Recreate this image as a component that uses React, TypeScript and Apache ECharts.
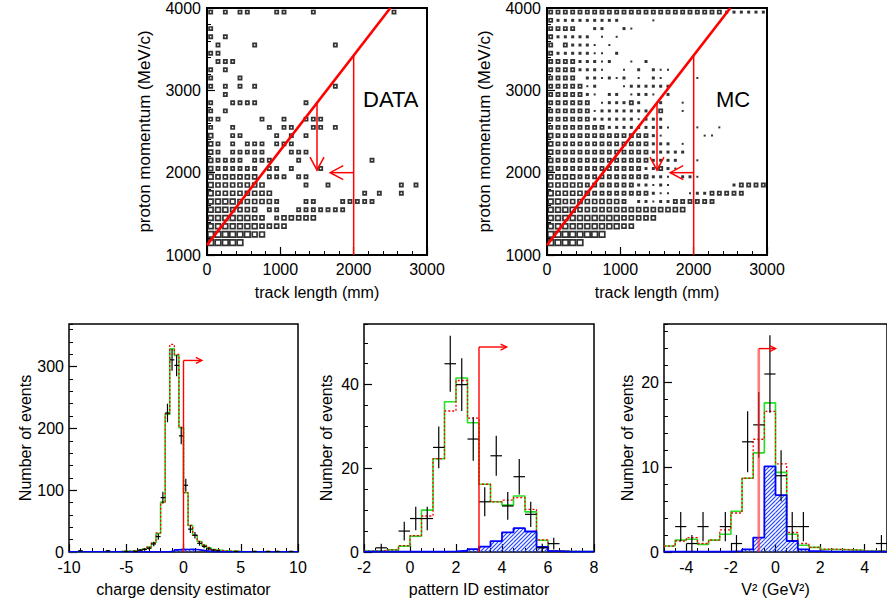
import React, { useEffect, useRef } from 'react';
import * as echarts from 'echarts';

const FONT = '"Liberation Sans", Arial, Helvetica, sans-serif';

// ---------------- top: proton momentum vs track length ----------------
const TRACK_RANGE = [0, 3000];
const MOM_RANGE = [1000, 4000];
const TRACK_BIN = 100;
const MOM_BIN = 100;
// box-size level for each 100 mm x 100 MeV/c cell; first string = top row (3900-4000)
const DATA_ROWS = [
  '3030330003 3000300000 0000030000',
  '0000000000 0000000000 0000000000',
  '3000000000 0000000000 0000000000',
  '3030000000 0000000000 0000000000',
  '0300003000 0000000300 0000000000',
  '3300000000 0000000000 0000000000',
  '0333000000 0000000000 0000000000',
  '3030000000 0000000000 0000000000',
  '3000300000 0000000000 0000000000',
  '3030303000 0000000300 0000000000',
  '0030000000 0000000000 0000000000',
  '3003333000 0003000000 0000000000',
  '3030000000 0000000000 0000000000',
  '3300000300 3003330000 0000000000',
  '3003000030 3300330300 0000000000',
  '4003300003 0303000000 0000000000',
  '4303033303 3300000000 0000000000',
  '4303333300 0333000000 0000000000',
  '4333303330 0030000000 0030000000',
  '4333333033 0300030000 0000000000',
  '5444444033 3033000000 0000000000',
  '5444444400 0003003000 0000003030',
  '5444444440 0000000000 0303003000',
  '5555444443 0003300033 3330000000',
  '5554444033 0033333330 0000000000',
  '5555554403 4444400000 0000000000',
  '5555555444 4000000000 0000000000',
  '6666665500 0000000000 0000000000',
  '6666600000 0000000000 0000000000',
  '0000000000 0000000000 0000000000',
];
const MC_ROWS = [
  '3333333333 3333333333 3333222222',
  '3222222222 0000100000 0000000000',
  '3333002200 2100000000 0000000000',
  '3222220101 0000000000 0000000000',
  '3032221010 0000000000 0000000000',
  '3222221102 0000000000 0000000000',
  '3333222120 0102000000 0000000000',
  '3333222100 1020211000 0000000000',
  '3333022121 2010210000 1000000000',
  '3333312000 1222222000 0000000000',
  '3333321022 0122102000 0000000000',
  '3333330122 2320020010 0000000000',
  '3333331222 2222030010 0000000000',
  '3333332222 2212220000 0000000000',
  '3333333322 2222221000 1001000000',
  '4333333333 3333210000 0110000000',
  '4333333333 3333222010 0000000000',
  '4333333333 3333222220 0000000000',
  '4333333333 3333222200 1000000000',
  '4333333333 3332232100 0000000000',
  '4444333333 3333221022 1000000000',
  '4444433333 3322121000 0000023333',
  '5444443333 3333211001 2233333000',
  '5544444444 3022122333 3330000000',
  '5555444444 4444444440 0000000000',
  '5555555555 4444400000 0000000000',
  '5555555555 4400000000 0000000000',
  '6666666600 0000000000 0000000000',
  '6666600000 0000000000 0000000000',
  '0000000000 0000000000 0000000000',
];
const BOX_SIZE_PX = [0, 2, 3, 3.2, 4, 4.8, 5.6];
// cut lines: [x1, y1, x2, y2, arrowHead, width]
const TOP_CUTS = [
  [0, 1120, 2500, 4000, 0, 2.6],
  [2000, 1000, 2000, 3424, 0, 1.5],
  [1500, 2848, 1500, 2030, 1, 1.5],
  [2000, 2000, 1680, 2000, 1, 1.5],
];

// ---------------- bottom-left: charge density estimator ----------------
const CHARGE_LO = -10;
const CHARGE_W = 0.4;
const CHARGE_MC_GREEN = [
  0.5, 0.5, 0.5, 0.5, 0.5, 0.5, 0.5, 0.5, 0.5, 0.5, 0.5, 1, 1, 1.5, 2, 3, 5, 8, 15, 30,
  81, 223, 329, 318, 201, 96, 43, 27, 17, 11, 7, 4, 3, 2, 1.5, 1, 1, 0.5, 0.5, 0.5,
  0.5, 0.5, 0.5, 0.5, 0.5, 0.5, 0.5, 0.5, 0.5, 0.5,
];
const CHARGE_MC_RED = [
  0.5, 0.5, 0.5, 0.5, 0.5, 0.5, 0.5, 0.5, 0.5, 0.5, 0.5, 1, 1, 1.5, 2, 3, 5, 8, 15, 31,
  80, 224, 336, 320, 202, 96, 43, 27, 17, 11, 7, 4, 3, 2, 1.5, 1, 1, 0.5, 0.5, 0.5,
  0.5, 0.5, 0.5, 0.5, 0.5, 0.5, 0.5, 0.5, 0.5, 0.5,
];
const CHARGE_SIGNAL = [
  0.3, 0.3, 0.3, 0.3, 0.3, 0.3, 0.3, 0.3, 0.3, 0.3, 0.3, 0.3, 0.3, 0.3, 0.3, 0.3, 0.3, 0.3, 0.3, 0.3,
  0.3, 0.5, 1.5, 3.5, 4.5, 4, 4.5, 4, 3, 2, 1, 0.5, 0.3, 0.3, 0.3, 0.3, 0.3, 0.3, 0.3, 0.3,
  0.3, 0.3, 0.3, 0.3, 0.3, 0.3, 0.3, 0.3, 0.3, 0.3,
];
const CHARGE_DATA_X = [-9.0, -6.6, -5.0, -4.2, -3.8, -3.4, -3.0, -2.6, -2.2, -1.8, -1.4, -1.0, -0.6, -0.2, 0.2, 0.6, 1.0, 1.4, 1.8, 2.2, 2.6, 3.0, 4.6, 6.2, 7.4, 8.2, 9.4];
const CHARGE_DATA_Y = [2, 2, 1, 1, 3, 4, 6, 13, 25, 88, 225, 311, 302, 188, 108, 37, 27, 14, 9, 5, 3, 2, 1, 1, 1, 1, 1];
const CHARGE_CUT = [[0, 0, 0, 310, 0, 1.4], [0, 310, 1.6, 310, 1, 1.4]];

// ---------------- bottom-middle: pattern ID estimator ----------------
const PID_LO = -2;
const PID_W = 0.5;
const PID_MC_GREEN = [0.2, 0.3, 0.5, 1.4, 3.8, 10, 22.3, 35.9, 41.6, 30.9, 16.2, 12, 11.2, 13.4, 9.6, 2.8, 0.3, 0.15, 0.1, 0.1];
const PID_MC_RED = [0.2, 0.3, 0.5, 1.5, 3.9, 8.6, 22.3, 33.7, 41, 32, 16.2, 12, 12.4, 13, 10.2, 2.9, 0.3, 0.15, 0.1, 0.1];
const PID_SIGNAL = [0.1, 0.1, 0.1, 0.1, 0.1, 0.1, 0.1, 0.15, 0.3, 0.7, 1.3, 2.6, 4.7, 5.7, 4.9, 1.2, 0.2, 0.1, 0.1, 0.1];
const PID_DATA_X = [-1.25, -0.25, 0.25, 0.75, 1.25, 1.75, 2.25, 2.75, 3.25, 3.75, 4.25, 4.75, 5.25, 5.75, 6.25];
const PID_DATA_Y = [1, 5, 8, 8, 25, 45, 40, 27, 12, 23, 11, 18, 9, 1, 2];
const PID_CUT = [[3, 0, 3, 49, 0, 1.4], [3, 49, 4.2, 49, 1, 1.4]];

// ---------------- bottom-right: V^2 ----------------
const V2_LO = -5;
const V2_W = 0.5;
const V2_MC_GREEN = [0.7, 1.4, 1.5, 0.9, 1.4, 2.1, 4.8, 8.7, 11.7, 17.6, 9.4, 2.1, 0.8, 0.55, 0.3, 0.3, 0.25, 0.2, 0.1, 0.1];
const V2_MC_RED = [0.7, 1.3, 1.7, 1.0, 1.4, 2.6, 4.6, 8.7, 13.3, 16.6, 10.4, 2.3, 1.0, 0.55, 0.35, 0.3, 0.25, 0.2, 0.1, 0.1];
const V2_SIGNAL = [0.05, 0.05, 0.05, 0.05, 0.05, 0.05, 0.1, 0.3, 1.7, 10.1, 6.7, 1.3, 0.3, 0.1, 0.05, 0.05, 0.05, 0.05, 0.05, 0.05];
const V2_DATA_X = [-4.25, -3.75, -3.25, -2.25, -1.75, -1.25, -0.75, -0.25, 0.25, 0.75, 1.25, 4.75];
const V2_DATA_Y = [3, 1, 3, 3, 1, 13, 15, 21, 9, 3, 3, 1];
const V2_CUT_LINE = [[-0.75, 0, -0.75, 24, 0, 2.6]];
const V2_CUT_ARROW = [[-0.75, 24, 0, 24, 1, 1.4]];

// ---------------- helpers ----------------
const GREEN = '#22e022';
const RED = '#ff0000';
const BLUE = '#0000ff';
const HATCH = '#2a4bff';

function rowsToBoxes(rows: string[]) {
  const out: any[] = [];
  rows.forEach((row, r) => {
    const cells = row.replace(/\s+/g, '');
    const j = rows.length - 1 - r;
    for (let i = 0; i < cells.length; i++) {
      const lv = Number(cells[i]);
      if (!lv) continue;
      out.push({
        value: [TRACK_RANGE[0] + (i + 0.5) * TRACK_BIN, MOM_RANGE[0] + (j + 0.5) * MOM_BIN, lv],
        symbolSize: BOX_SIZE_PX[lv],
        itemStyle:
          lv <= 2
            ? { color: '#000', borderWidth: 0 }
            : { color: '#fff', borderColor: '#000', borderWidth: 1.7 },
      });
    }
  });
  return out;
}

function stepPoints(lo: number, w: number, vals: number[]) {
  const pts: number[][] = [];
  vals.forEach((v, k) => {
    pts.push([lo + k * w, v], [lo + (k + 1) * w, v]);
  });
  return pts;
}

function stepSeries(g: number, lo: number, w: number, vals: number[], color: string, width: number, dash?: any, z = 3) {
  return {
    type: 'line',
    xAxisIndex: 2 * g,
    yAxisIndex: 2 * g,
    data: stepPoints(lo, w, vals),
    symbol: 'none',
    silent: true,
    z,
    itemStyle: { color },
    lineStyle: { color, width, type: dash || 'solid' },
  };
}

// hatched signal histogram: one polyline per bin, zig-zagging through the "/" hatch lines
function hatchSeries(g: number, lo: number, w: number, vals: number[]) {
  return {
    type: 'custom',
    xAxisIndex: 2 * g,
    yAxisIndex: 2 * g,
    silent: true,
    z: 2,
    itemStyle: { color: HATCH, borderColor: HATCH },
    data: vals.map((v, k) => [lo + k * w, lo + (k + 1) * w, v]),
    renderItem: (_p: any, api: any) => {
      const tl = api.coord([api.value(0), api.value(2)]);
      const br = api.coord([api.value(1), 0]);
      const x0 = tl[0], y0 = tl[1], x1 = br[0], y1 = br[1];
      const children: any[] = [];
      if (y1 - y0 >= 2) {
        const step = 4;
        for (let c = Math.ceil((x0 + y0) / step) * step; c <= x1 + y1; c += step) {
          const xa = Math.max(x0, c - y1);
          const xb = Math.min(x1, c - y0);
          if (xb - xa > 0.3) {
            children.push({
              type: 'polyline',
              shape: { points: [[xa, c - xa], [xb, c - xb]] },
              style: { stroke: HATCH, lineWidth: 1.1, fill: 'none' },
            });
          }
        }
      }
      return { type: 'group', children };
    },
  };
}

function errorSeries(g: number, xs: number[], ys: number[], hw: number) {
  return {
    type: 'custom',
    xAxisIndex: 2 * g,
    yAxisIndex: 2 * g,
    silent: true,
    z: 5,
    itemStyle: { color: '#000' },
    data: xs.map((x, k) => [x, ys[k]]),
    renderItem: (_p: any, api: any) => {
      const x = api.value(0);
      const y = api.value(1);
      const e = Math.sqrt(y);
      const c = api.coord([x, y]);
      const t = api.coord([x, y + e]);
      const b = api.coord([x, Math.max(0, y - e)]);
      const l = api.coord([x - hw, y]);
      const r = api.coord([x + hw, y]);
      const st = { stroke: '#000', lineWidth: 1.2 };
      return {
        type: 'group',
        children: [
          { type: 'line', shape: { x1: c[0], y1: t[1], x2: c[0], y2: b[1] }, style: st },
          { type: 'line', shape: { x1: l[0], y1: c[1], x2: r[0], y2: c[1] }, style: st },
        ],
      };
    },
  };
}

function arrowSeries(g: number, segs: number[][], color: string, headLen: number, headHalf: number, z = 6) {
  return {
    type: 'custom',
    xAxisIndex: 2 * g,
    yAxisIndex: 2 * g,
    silent: true,
    z,
    itemStyle: { color },
    data: segs,
    renderItem: (_p: any, api: any) => {
      const a = api.coord([api.value(0), api.value(1)]);
      const b = api.coord([api.value(2), api.value(3)]);
      const head = api.value(4);
      const lw = api.value(5);
      const st = { stroke: color, lineWidth: lw, fill: 'none' };
      const children: any[] = [
        { type: 'line', shape: { x1: a[0], y1: a[1], x2: b[0], y2: b[1] }, style: st },
      ];
      if (head > 0) {
        const dx = b[0] - a[0];
        const dy = b[1] - a[1];
        const L = Math.hypot(dx, dy) || 1;
        const ux = dx / L, uy = dy / L;
        children.push({
          type: 'polyline',
          shape: {
            points: [
              [b[0] - ux * headLen - uy * headHalf, b[1] - uy * headLen + ux * headHalf],
              [b[0], b[1]],
              [b[0] - ux * headLen + uy * headHalf, b[1] - uy * headLen - ux * headHalf],
            ],
          },
          style: st,
        });
      }
      return { type: 'group', children };
    },
  };
}

const LABEL = { color: '#000', fontSize: 16, fontFamily: FONT };
const plain = (v: number) => String(v);

function mainAxis(g: number, dim: 'x' | 'y', cfg: any) {
  return {
    type: 'value',
    gridIndex: g,
    position: dim === 'x' ? 'bottom' : 'left',
    min: cfg.min,
    max: cfg.max,
    interval: cfg.interval,
    splitNumber: cfg.splitNumber,
    name: cfg.name,
    nameLocation: 'middle',
    nameGap: cfg.nameGap,
    nameTextStyle: { color: '#000', fontSize: cfg.nameSize ?? 16, fontFamily: FONT },
    axisLine: { show: false, onZero: false },
    axisTick: { show: true, inside: true, length: 8, lineStyle: { color: '#000', width: 1.2 } },
    axisLabel: {
      ...LABEL,
      margin: cfg.margin ?? 5,
      showMinLabel: cfg.showMinLabel,
      showMaxLabel: cfg.showMaxLabel,
      formatter: cfg.formatter || plain,
    },
    splitLine: { show: false },
  };
}

function minorAxis(g: number, dim: 'x' | 'y', min: number, max: number, interval: number) {
  return {
    type: 'value',
    gridIndex: g,
    position: dim === 'x' ? 'bottom' : 'left',
    min,
    max,
    interval,
    axisLine: { show: false, onZero: false },
    axisTick: { show: true, inside: true, length: 4, lineStyle: { color: '#000', width: 1 } },
    axisLabel: { show: false },
    splitLine: { show: false },
  };
}

function buildOption() {
  const grids = [
    { left: 207, top: 6, width: 220, height: 249, bw: 2 },
    { left: 547, top: 6, width: 220, height: 249, bw: 2 },
    { left: 69, top: 324, width: 229, height: 228, bw: 1.5 },
    { left: 364, top: 324, width: 230, height: 228, bw: 1.5 },
    { left: 664, top: 324, width: 230, height: 228, bw: 1.5 },
  ].map((g) => ({
    left: g.left,
    top: g.top,
    width: g.width,
    height: g.height,
    show: true,
    borderColor: '#000',
    borderWidth: g.bw,
    backgroundColor: 'transparent',
    containLabel: false,
  }));

  const xAxis: any[] = [];
  const yAxis: any[] = [];
  // top plots
  for (const g of [0, 1]) {
    xAxis.push(mainAxis(g, 'x', { min: TRACK_RANGE[0], max: TRACK_RANGE[1], interval: 1000, name: 'track length (mm)', nameGap: 29, margin: 6 }));
    xAxis.push(minorAxis(g, 'x', TRACK_RANGE[0], TRACK_RANGE[1], 200));
    yAxis.push(mainAxis(g, 'y', { min: MOM_RANGE[0], max: MOM_RANGE[1], interval: 1000, name: 'proton momentum (MeV/c)', nameGap: 54, margin: 6, nameSize: 17 }));
    yAxis.push(minorAxis(g, 'y', MOM_RANGE[0], MOM_RANGE[1], 200));
  }
  // charge density
  xAxis.push(mainAxis(2, 'x', { min: -10, max: 10, interval: 5, name: 'charge density estimator', nameGap: 29, margin: 7 }));
  xAxis.push(minorAxis(2, 'x', -10, 10, 1));
  yAxis.push(mainAxis(2, 'y', { min: 0, max: 369, interval: 100, name: 'Number of events', nameGap: 33, showMaxLabel: false }));
  yAxis.push(minorAxis(2, 'y', 0, 369, 20));
  // pattern ID
  xAxis.push(mainAxis(3, 'x', { min: -2, max: 8, interval: 2, name: 'pattern ID estimator', nameGap: 29, margin: 7 }));
  xAxis.push(minorAxis(3, 'x', -2, 8, 0.5));
  yAxis.push(mainAxis(3, 'y', { min: 0, max: 54.5, interval: 20, name: 'Number of events', nameGap: 30, showMaxLabel: false }));
  yAxis.push(minorAxis(3, 'y', 0, 54.5, 5));
  // V^2
  xAxis.push(mainAxis(4, 'x', {
    min: -5, max: 5, splitNumber: 5, name: 'V² (GeV²)', nameGap: 29, margin: 7,
    showMinLabel: false, showMaxLabel: false,
    formatter: (v: number) => (Math.abs(v) === 5 ? '' : String(v)),
  }));
  xAxis.push(minorAxis(4, 'x', -5, 5, 0.5));
  yAxis.push(mainAxis(4, 'y', { min: 0, max: 26.9, interval: 10, name: 'Number of events', nameGap: 29, showMaxLabel: false }));
  yAxis.push(minorAxis(4, 'y', 0, 26.9, 2));

  const boxSeries = (g: number, rows: string[]) => ({
    type: 'scatter',
    xAxisIndex: 2 * g,
    yAxisIndex: 2 * g,
    symbol: 'rect',
    silent: true,
    z: 2,
    data: rowsToBoxes(rows),
  });

  const series: any[] = [
    boxSeries(0, DATA_ROWS),
    boxSeries(1, MC_ROWS),
    arrowSeries(0, TOP_CUTS, RED, 13, 7),
    arrowSeries(1, TOP_CUTS, RED, 13, 7),

    hatchSeries(2, CHARGE_LO, CHARGE_W, CHARGE_SIGNAL),
    stepSeries(2, CHARGE_LO, CHARGE_W, CHARGE_MC_GREEN, GREEN, 1.6),
    stepSeries(2, CHARGE_LO, CHARGE_W, CHARGE_MC_RED, RED, 1.3, [2, 2], 4),
    stepSeries(2, CHARGE_LO, CHARGE_W, CHARGE_SIGNAL, BLUE, 1.6, undefined, 4),
    errorSeries(2, CHARGE_DATA_X, CHARGE_DATA_Y, CHARGE_W / 2),
    arrowSeries(2, CHARGE_CUT, RED, 6, 3),

    hatchSeries(3, PID_LO, PID_W, PID_SIGNAL),
    stepSeries(3, PID_LO, PID_W, PID_MC_GREEN, GREEN, 1.6),
    stepSeries(3, PID_LO, PID_W, PID_MC_RED, RED, 1.3, [2, 2], 4),
    stepSeries(3, PID_LO, PID_W, PID_SIGNAL, BLUE, 1.8, undefined, 4),
    errorSeries(3, PID_DATA_X, PID_DATA_Y, PID_W / 2),
    arrowSeries(3, PID_CUT, RED, 6, 3),

    hatchSeries(4, V2_LO, V2_W, V2_SIGNAL),
    stepSeries(4, V2_LO, V2_W, V2_MC_GREEN, GREEN, 1.6),
    stepSeries(4, V2_LO, V2_W, V2_MC_RED, RED, 1.3, [2, 2], 4),
    stepSeries(4, V2_LO, V2_W, V2_SIGNAL, BLUE, 1.8, undefined, 4),
    errorSeries(4, V2_DATA_X, V2_DATA_Y, V2_W / 2),
    arrowSeries(4, V2_CUT_LINE, 'rgba(255,40,40,0.62)', 6, 3, 7),
    arrowSeries(4, V2_CUT_ARROW, RED, 6, 3, 7),
  ];

  const graphic = [
    { type: 'text', left: 363, top: 88, style: { text: 'DATA', fontSize: 22, fontFamily: FONT, fill: '#000' } },
    { type: 'text', left: 716, top: 88, style: { text: 'MC', fontSize: 22, fontFamily: FONT, fill: '#000' } },
  ];

  return {
    animation: false,
    backgroundColor: '#fff',
    textStyle: { fontFamily: FONT },
    grid: grids,
    xAxis,
    yAxis,
    series,
    graphic,
  };
}

export default function App() {
  const ref = useRef<HTMLDivElement>(null);
  useEffect(() => {
    if (!ref.current) return;
    const chart = echarts.init(ref.current, undefined, { renderer: 'svg' });
    chart.setOption(buildOption() as any);
    return () => chart.dispose();
  }, []);
  return (
    <div
      ref={ref}
      style={{ position: 'absolute', left: 0, top: 0, width: 887, height: 603, background: '#fff' }}
    />
  );
}
